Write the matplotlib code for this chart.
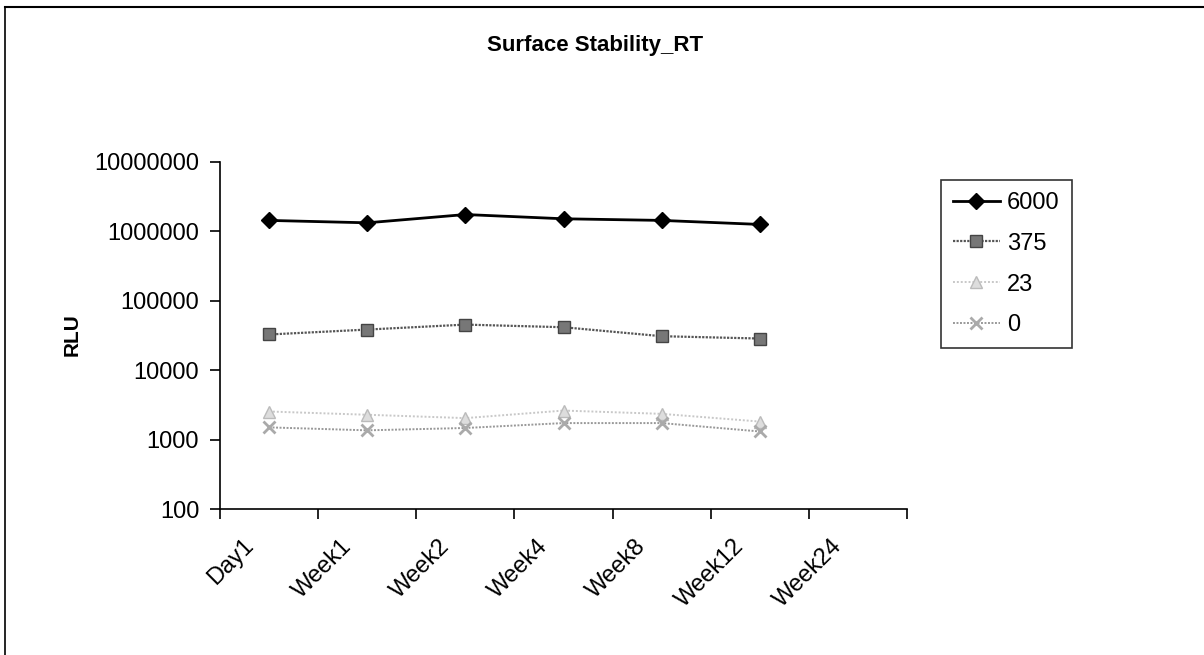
import matplotlib.pyplot as plt
from matplotlib.lines import Line2D
from matplotlib.transforms import ScaledTranslation

plt.rcParams['font.family'] = ['Liberation Sans', 'DejaVu Sans']

# categories on the x axis (Week24 has no data yet)
categories = ["Day1", "Week1", "Week2", "Week4", "Week8", "Week12", "Week24"]

# RLU readings per concentration
rlu_6000 = [1440000, 1330000, 1750000, 1520000, 1440000, 1260000]
rlu_375 = [32700, 38500, 45400, 41600, 30900, 28600]
rlu_23 = [2540, 2280, 2040, 2620, 2350, 1820]
rlu_0 = [1500, 1360, 1470, 1730, 1730, 1310]

series_names = ["6000", "375", "23", "0"]

fig = plt.figure(figsize=(12.04, 6.55), dpi=100)
ax = fig.add_axes([220 / 1204, 1 - 509 / 655, 687 / 1204, 347 / 655])

xs = [i + 0.5 for i in range(len(rlu_6000))]

ax.plot(xs, rlu_6000, color="black", lw=2, marker="D", ms=8,
        mfc="black", mec="black", label=series_names[0])
ax.plot(xs, rlu_375, color="#555555", lw=1.6, ls=(0, (1, 0.6)), marker="s", ms=8,
        mfc="#777777", mec="#444444", label=series_names[1])
ax.plot(xs, rlu_23, color="#c8c8c8", lw=1.4, ls=(0, (1, 1)), marker="^", ms=9,
        mfc="#dddddd", mec="#bbbbbb", label=series_names[2])
ax.plot(xs, rlu_0, color="#999999", lw=1.4, ls=(0, (1, 0.8)), marker="x", ms=9,
        mew=2, mec="#aaaaaa", label=series_names[3])

ax.set_yscale("log")
ax.set_ylim(100, 10000000)
ax.set_yticks([100, 1000, 10000, 100000, 1000000, 10000000])
ax.set_yticklabels(["100", "1000", "10000", "100000", "1000000", "10000000"])
ax.minorticks_off()

ax.set_xlim(0, len(categories))
ax.set_xticks(range(len(categories) + 1))
ax.set_xticklabels([])
ax.set_xticks([i + 0.5 for i in range(len(categories))], minor=True)
ax.set_xticklabels(categories, minor=True, rotation=45, ha="right", va="top",
                   rotation_mode="anchor")
ax.tick_params(axis="x", which="minor", length=0, pad=10, labelsize=17)
ax.tick_params(axis="x", which="major", length=7, width=1.2, direction="out")
ax.tick_params(axis="y", which="major", length=7, width=1.2, direction="out",
               pad=8, labelsize=17)

# Excel puts the rotated labels a bit left of and below the category centre
shift = ScaledTranslation(-27 / 100, -12 / 100, fig.dpi_scale_trans)
for lab in ax.get_xticklabels(minor=True):
    lab.set_transform(lab.get_transform() + shift)

for s in ["top", "right"]:
    ax.spines[s].set_visible(False)
for s in ["left", "bottom"]:
    ax.spines[s].set_linewidth(1.2)

fig.text(595 / 1204, 1 - 46 / 655, "Surface Stability_RT", ha="center", va="center",
         fontsize=16, fontweight="bold")
fig.text(72 / 1204, 1 - 335 / 655, "RLU", rotation=90, ha="center", va="center",
         fontsize=15, fontweight="bold")

leg = ax.legend(loc="upper left", bbox_to_anchor=(941 / 1204, 1 - 180 / 655),
                bbox_transform=fig.transFigure, frameon=True, fancybox=False,
                edgecolor="black", fontsize=17, handlelength=2.0, labelspacing=0.8,
                borderpad=0.5, handletextpad=0.3, borderaxespad=0)
leg.get_frame().set_linewidth(1.2)

# outer chart frame (top and left edges visible)
fig.add_artist(Line2D([5 / 1204, 1], [1 - 7 / 655, 1 - 7 / 655], color="black", lw=1.5))
fig.add_artist(Line2D([5 / 1204, 5 / 1204], [0, 1 - 7 / 655], color="black", lw=1.2))

fig.savefig("out.png", dpi=100)
